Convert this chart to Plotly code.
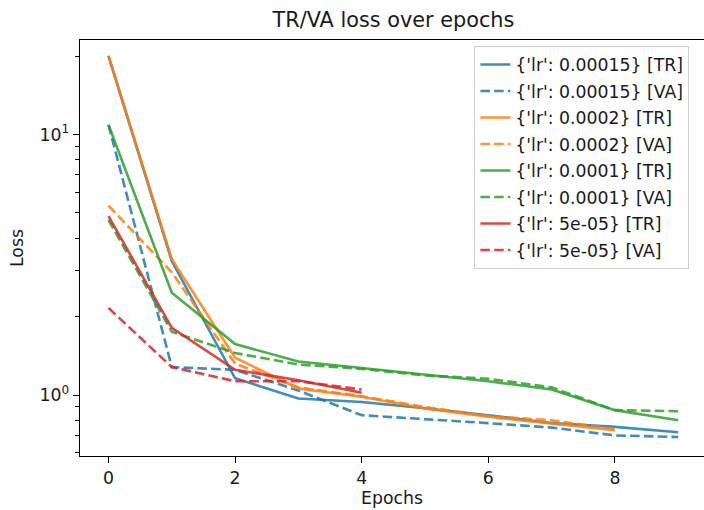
import plotly.graph_objects as go

epochs = list(range(10))

blue_tr = [20.0, 3.27, 1.16, 0.97, 0.94, 0.89, 0.837, 0.78, 0.755, 0.72]
blue_va = [10.9, 1.28, 1.25, 1.04, 0.837, 0.81, 0.78, 0.75, 0.70, 0.69]
orange_tr = [20.1, 3.32, 1.39, 1.06, 0.985, 0.888, 0.825, 0.778, 0.733]
orange_va = [5.33, 2.96, 1.32, 1.07, 0.99, 0.90, 0.83, 0.80, 0.74]
green_tr = [10.9, 2.47, 1.57, 1.345, 1.27, 1.20, 1.13, 1.05, 0.875, 0.80]
green_va = [4.7, 1.75, 1.45, 1.31, 1.26, 1.19, 1.155, 1.07, 0.875, 0.867]
red_tr = [4.86, 1.81, 1.25, 1.14, 1.02]
red_va = [2.16, 1.28, 1.13, 1.13, 1.05]

DASH = "9.6px,4.2px"
series = [
    ("{'lr': 0.00015} [TR]", blue_tr, "#1f77b4", "solid"),
    ("{'lr': 0.00015} [VA]", blue_va, "#1f77b4", DASH),
    ("{'lr': 0.0002} [TR]", orange_tr, "#ff7f0e", "solid"),
    ("{'lr': 0.0002} [VA]", orange_va, "#ff7f0e", DASH),
    ("{'lr': 0.0001} [TR]", green_tr, "#2ca02c", "solid"),
    ("{'lr': 0.0001} [VA]", green_va, "#2ca02c", DASH),
    ("{'lr': 5e-05} [TR]", red_tr, "#d62728", "solid"),
    ("{'lr': 5e-05} [VA]", red_va, "#d62728", DASH),
]

y_major = [1, 10]
y_major_text = ["10<sup>0</sup>", "10<sup>1</sup>"]
y_minor = [0.6, 0.7, 0.8, 0.9, 2, 3, 4, 5, 6, 7, 8, 9, 20]
x_ticks = [0, 2, 4, 6, 8]

FONT = "DejaVu Sans"
FS = 17.3
TXT = "#1a1a1a"
fig = go.Figure()
for i, (name, vals, color, dash) in enumerate(series):
    fig.add_trace(go.Scatter(
        x=epochs[:len(vals)], y=vals, mode="lines", name=name,
        legendgroup=f"g{i}",
        line=dict(color=color, width=2.6, dash=dash),
        opacity=0.85,
    ))

fig.update_layout(
    width=704, height=510,
    margin=dict(l=80, r=0, t=40, b=54.4),
    paper_bgcolor="white", plot_bgcolor="white",
    font=dict(family=FONT, size=FS, color=TXT),
    title=dict(text="TR/VA loss over epochs", x=0.5023, xref="paper", xanchor="center",
               y=1 - 20 / 510, yref="container", yanchor="middle",
               font=dict(family=FONT, size=20.8, color=TXT)),
    showlegend=True,
    legend=dict(x=0.632, y=0.986, xanchor="left", yanchor="top",
                bgcolor="rgba(255,255,255,0.8)", bordercolor="#cccccc", borderwidth=1,
                font=dict(family=FONT, size=FS, color=TXT),
                tracegroupgap=1, traceorder="grouped"),
)
fig.update_xaxes(
    range=[-0.45, 9.407], tickmode="array", tickvals=x_ticks, automargin=False,
    showgrid=False, zeroline=False, showline=True, linecolor="black", linewidth=1.4,
    mirror=True, ticks="outside", ticklen=6, tickwidth=1.4, tickcolor="black",
    tickfont=dict(family=FONT, size=FS, color=TXT),
    title=dict(text="Epochs", font=dict(family=FONT, size=FS, color=TXT), standoff=4),
)
fig.update_yaxes(
    type="log", range=[-0.234, 1.363], tickmode="array", tickvals=y_major, ticktext=y_major_text,
    automargin=False,
    showgrid=False, zeroline=False, showline=True, linecolor="black", linewidth=1.4,
    ticks="outside", ticklen=6, tickwidth=1.4, tickcolor="black",
    tickfont=dict(family=FONT, size=FS, color=TXT),
    minor=dict(tickmode="array", tickvals=y_minor, ticks="outside", ticklen=3.5,
               tickwidth=1.0, tickcolor="black", showgrid=False),
    title=dict(text="Loss", font=dict(family=FONT, size=FS, color=TXT), standoff=11),
)

fig.write_html("out.html", config={"displayModeBar": False},
               post_script="document.body.style.margin='0';")
